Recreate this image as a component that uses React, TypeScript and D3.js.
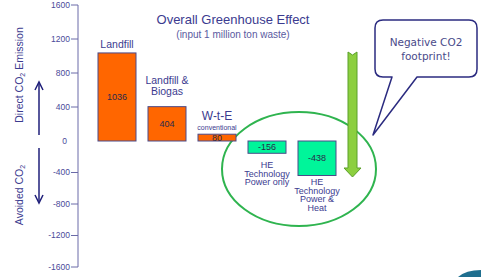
import * as d3 from "d3";

const categories = ["Landfill", "Landfill & Biogas", "W-t-E", "HE Power only", "HE Power & Heat"];
const values = [1036, 404, 80, -156, -438];
const tickValues = [1600, 1200, 800, 400, 0, -400, -800, -1200, -1600];
const labelLines = [
  ["Landfill"],
  ["Landfill &", "Biogas"],
  ["W-t-E"],
  ["HE", "Technology", "Power only"],
  ["HE", "Technology", "Power  &", "Heat"],
];

const width = 481;
const height = 277;
const navy = "#3b3b8f";
const font = "Liberation Sans, Arial, sans-serif";

const x = d3.scaleBand().domain(categories).range([92, 342]).paddingInner(0.24).paddingOuter(0.12);
const y = d3.scaleLinear().domain([-1600, 0, 1600]).range([267, 141, 5]);

// gap between bar end and its label block
const labelGap = [5, 12, 4, 15, 10];

const App = () => {
  const axisX = 78;
  return (
    <svg width={width} height={height} style={{ position: "absolute", left: 0, top: 0 }} fontFamily={font}>
      <rect width={width} height={height} fill="#fff" />
      {/* axis */}
      <line x1={axisX} x2={axisX} y1={y(1600)} y2={y(-1600)} stroke="#6a6aa8" strokeWidth={1} />
      {tickValues.map((t) => (
        <g key={t}>
          {t !== 0 && <line x1={axisX - 7} x2={axisX} y1={y(t)} y2={y(t)} stroke="#6a6aa8" />}
          <text x={t === 0 ? 67 : 70} y={y(t)} dy="0.35em" textAnchor="end" fontSize={8.5} fill="#4a4a9a">
            {t}
          </text>
        </g>
      ))}
      {/* axis titles */}
      <text transform="translate(23,75) rotate(-90)" textAnchor="middle" fontSize={10.5} fill={navy}>
        Direct CO<tspan fontSize={7} dy={2}>2</tspan><tspan dy={-2}> Emission</tspan>
      </text>
      <text transform="translate(23,195) rotate(-90)" textAnchor="middle" fontSize={10.5} fill={navy}>
        Avoided CO<tspan fontSize={7} dy={2}>2</tspan>
      </text>
      <line x1={39} x2={39} y1={135} y2={84} stroke="#1f1f7a" strokeWidth={1.5} />
      <path d="M35,90 L39,82 L43,90" fill="none" stroke="#1f1f7a" strokeWidth={1.5} />
      <line x1={39} x2={39} y1={148} y2={201} stroke="#1f1f7a" strokeWidth={1.5} />
      <path d="M35,195 L39,203 L43,195" fill="none" stroke="#1f1f7a" strokeWidth={1.5} />
      {/* title */}
      <text x={233} y={24} textAnchor="middle" fontSize={13} fill={navy}>Overall Greenhouse Effect</text>
      <text x={233} y={38} textAnchor="middle" fontSize={10} fill="#5a5aa0">(input 1 million ton waste)</text>
      {/* ellipse */}
      <ellipse cx={299} cy={169} rx={77} ry={57} fill="none" stroke="#2fb44f" strokeWidth={2} />
      {/* bars */}
      {categories.map((c, i) => {
        const v = values[i];
        const x0 = x(c)!;
        const top = Math.min(y(v), y(0));
        const h = Math.abs(y(v) - y(0));
        const pos = v > 0;
        return (
          <g key={c}>
            <rect x={x0} y={top} width={x.bandwidth()} height={h} fill={pos ? "#ff6600" : "#00f59a"} stroke="#4a4a8a" strokeWidth={1} />
            <text x={x0 + x.bandwidth() / 2} y={top + h / 2} dy="0.35em" textAnchor="middle" fontSize={9} fill="#2a2a4a">
              {v}
            </text>
          </g>
        );
      })}
      {/* category labels */}
      {categories.map((c, i) => {
        const v = values[i];
        const cx = x(c)! + x.bandwidth() / 2;
        const lines = labelLines[i];
        if (v > 0) {
          const big = i === 2 ? 12 : 10.5;
          const last = y(v) - labelGap[i] - (i === 2 ? 10 : 0);
          const base = last - (lines.length - 1) * 11;
          return (
            <g key={c} fill={navy} textAnchor="middle">
              {lines.map((l, j) => (
                <text key={j} x={cx} y={base + j * 11} fontSize={big}>{l}</text>
              ))}
              {i === 2 && <text x={cx} y={y(v) - labelGap[i]} fontSize={7}>conventional</text>}
            </g>
          );
        }
        const start = y(v) + labelGap[i];
        return (
          <g key={c} fill={navy} textAnchor="middle">
            {lines.map((l, j) => (
              <text key={j} x={cx} y={start + j * 8.5} fontSize={9}>{l}</text>
            ))}
          </g>
        );
      })}
      {/* green arrow */}
      <path d="M348,52 L352.5,55 L357,52 L357,168 L361,168 L352.5,177 L344,168 L348,168 Z" fill="#8ccf3f" stroke="#5aa02a" strokeWidth={1} />
      {/* speech bubble */}
      <path
        d="M383,20 L469,20 Q477,20 477,28 L477,69 Q477,77 469,77 L417,77 L373,135 L392,77 L383,77 Q375,77 375,69 L375,28 Q375,20 383,20 Z"
        fill="#fff" stroke="#2b2b80" strokeWidth={1.5} strokeLinejoin="round"
      />
      <text x={426} y={46} textAnchor="middle" fontSize={10.5} fill="#4a4a8a" fontFamily="DejaVu Sans, sans-serif">Negative CO2</text>
      <text x={426} y={60} textAnchor="middle" fontSize={10.5} fill="#4a4a8a" fontFamily="DejaVu Sans, sans-serif">footprint!</text>
      {/* corner swoosh */}
      <path d="M458,277 Q466,270 481,270 L481,277 Z" fill="#1f6f8f" />
    </svg>
  );
};

export default App;
